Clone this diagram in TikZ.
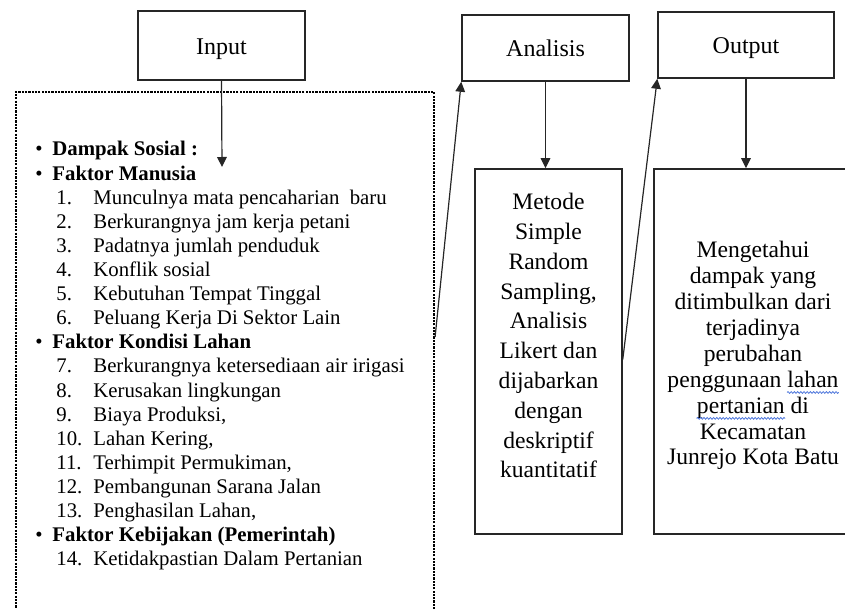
\documentclass[tikz,border=0pt]{standalone}
\usepackage{fontspec}
\setmainfont{Liberation Serif}
\usetikzlibrary{arrows.meta,decorations.pathmorphing}
\definecolor{spellblue}{RGB}{80,120,220}
% word with a thin blue wavy underline
\newcommand\spellmark[1]{\tikz[baseline=(w.base)]{\node[inner sep=0pt] (w) {#1};
  \draw[overlay, spellblue, line width=0.4pt, decorate, decoration={snake, amplitude=0.45pt, segment length=1.6pt}]
    ([yshift=-2.6pt]w.base west) -- ([yshift=-2.6pt]w.base east);}}
% one bold bullet heading of the factor list
\newcommand\headline[3]{\node[listline] (#1) at (35,#2) {\makebox[8.5pt][l]{\textbullet}\textbf{#3}};}
% one numbered entry of the factor list
\newcommand\itemline[4]{\node[listline] (#1) at (56,#2) {\makebox[18.5pt][l]{#3.}#4};}

\begin{document}
\begin{tikzpicture}[x=0.5pt,y=-0.5pt,
  boxframe/.style={draw=black!85, line width=0.75pt, inner sep=0pt},
  titlebox/.style={boxframe, font=\fontsize{12}{14}\selectfont, text height=9pt, text depth=0pt},
  flow/.style={draw=black!85, line width=0.6pt, -{Triangle[length=5pt,width=4.8pt]}},
  listline/.style={anchor=base west, inner sep=0pt, font=\fontsize{10.4}{12}\selectfont},
  dotframe/.style={draw=black, line width=1.1pt, dash pattern=on 1.1pt off 0.55pt, inner sep=0pt}
]
\useasboundingbox (0,0) rectangle (845,609);
\clip (0,0) rectangle (845,609);

% title boxes
\node[titlebox, minimum width=83.5pt, minimum height=34.5pt] (input) at (221.5,45.5) {Input};
\node[titlebox, minimum width=83.5pt, minimum height=33pt] (analisis) at (545.5,48) {Analisis};
\node[titlebox, minimum width=88pt, minimum height=33pt] (output) at (746,45) {Output};

% dotted frame around the factor list (runs off the bottom edge)
\node[dotframe, minimum width=209pt, minimum height=274pt] (faktor) at (225,366) {};

% analysis method and result boxes
\node[boxframe, minimum width=73.5pt, minimum height=182.5pt] (metode) at (548.5,351.5) {};
\node[boxframe, minimum width=103pt, minimum height=182.5pt] (hasil) at (757,351.5) {};

\node[anchor=north, inner sep=0pt, align=center, font=\fontsize{11.8}{14.9}\selectfont] (metodeText) at (548.5,193)
  {Metode\\Simple\\Random\\Sampling,\\Analisis\\Likert dan\\dijabarkan\\dengan\\deskriptif\\kuantitatif};
\node[anchor=north, inner sep=0pt, align=center, font=\fontsize{11.8}{12.95}\selectfont] (hasilText) at (753,241)
  {Mengetahui\\dampak yang\\ditimbulkan dari\\terjadinya\\perubahan\\penggunaan \spellmark{lahan}\\\spellmark{pertanian} di\\Kecamatan\\Junrejo Kota Batu};

% factor list
\headline{h1}{156}{Dampak Sosial :}
\headline{h2}{180.1}{Faktor Manusia}
\itemline{i1}{204.2}{1}{Munculnya mata pencaharian~~baru}
\itemline{i2}{228.3}{2}{Berkurangnya jam kerja petani}
\itemline{i3}{252.4}{3}{Padatnya jumlah penduduk}
\itemline{i4}{276.5}{4}{Konflik sosial}
\itemline{i5}{300.6}{5}{Kebutuhan Tempat Tinggal}
\itemline{i6}{324.7}{6}{Peluang Kerja Di Sektor Lain}
\headline{h3}{348.8}{Faktor Kondisi Lahan}
\itemline{i7}{372.9}{7}{Berkurangnya ketersediaan air irigasi}
\itemline{i8}{397}{8}{Kerusakan lingkungan}
\itemline{i9}{421.1}{9}{Biaya Produksi,}
\itemline{i10}{445.2}{10}{Lahan Kering,}
\itemline{i11}{469.3}{11}{Terhimpit Permukiman,}
\itemline{i12}{493.4}{12}{Pembangunan Sarana Jalan}
\itemline{i13}{517.5}{13}{Penghasilan Lahan,}
\headline{h4}{541.6}{Faktor Kebijakan (Pemerintah)}
\itemline{i14}{565.7}{14}{Ketidakpastian Dalam Pertanian}

% connectors
\coordinate (inTip) at (222,167);
\coordinate (fromList) at ([yshift=14.5pt]faktor.east);
\coordinate (fromMetode) at ([yshift=-4pt]metode.east);
\draw[flow] (input.south) -- (inTip);
\draw[flow] (analisis.south) -- (analisis.south |- metode.north);
\draw[flow] (output.south) -- (output.south |- hasil.north);
\draw[flow] (fromList) -- (analisis.south west);
\draw[flow] (fromMetode) -- (output.south west);
\end{tikzpicture}
\end{document}
